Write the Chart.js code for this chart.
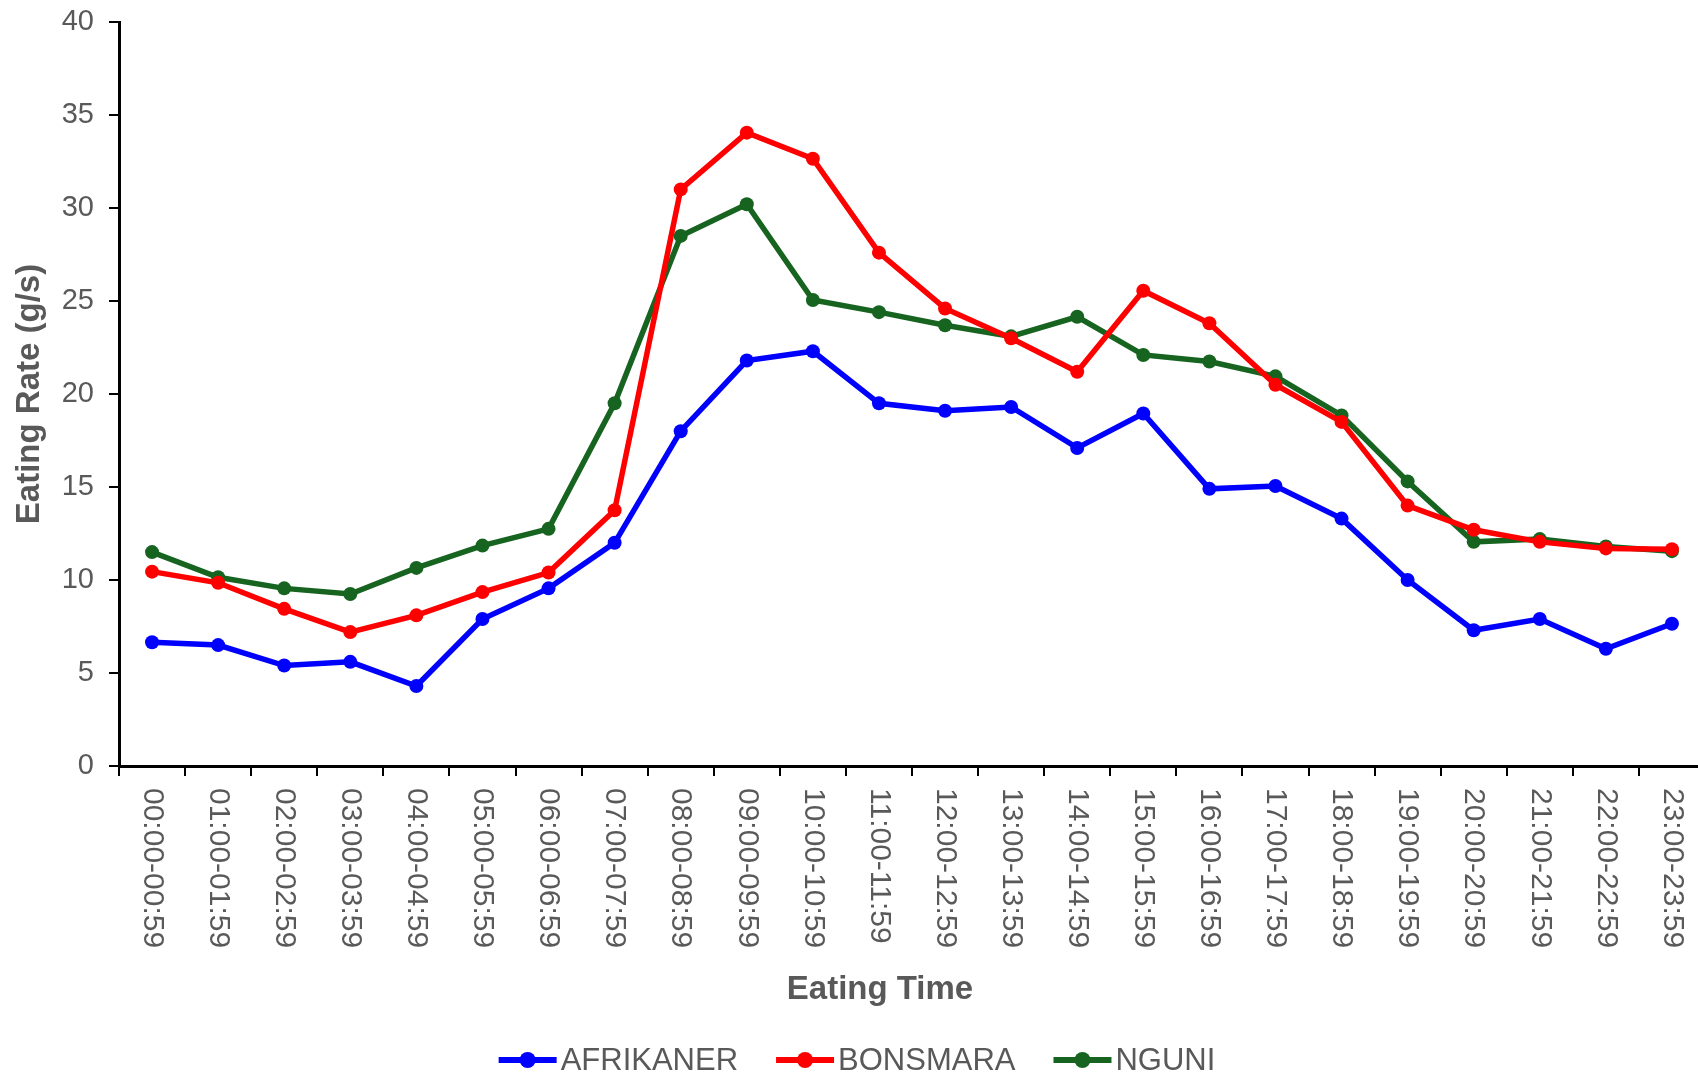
<!DOCTYPE html>
<html>
<head>
<meta charset="utf-8">
<title>Eating Rate</title>
<script src="https://cdn.jsdelivr.net/npm/chart.js@4.4.1/dist/chart.umd.min.js"></script>
<style>
    html, body { margin: 0; padding: 0; background: #ffffff; overflow: hidden; }
    #wrap { width: 1712px; height: 1076px; }
</style>
</head>
<body>
<div id="wrap"><canvas id="eating-chart"></canvas></div>
<script>
// Chart data
const timeSlots = [
    '00:00-00:59', '01:00-01:59', '02:00-02:59', '03:00-03:59', '04:00-04:59', '05:00-05:59',
    '06:00-06:59', '07:00-07:59', '08:00-08:59', '09:00-09:59', '10:00-10:59', '11:00-11:59',
    '12:00-12:59', '13:00-13:59', '14:00-14:59', '15:00-15:59', '16:00-16:59', '17:00-17:59',
    '18:00-18:59', '19:00-19:59', '20:00-20:59', '21:00-21:59', '22:00-22:59', '23:00-23:59'
];
const afrikaner = [6.65, 6.5, 5.4, 5.6, 4.3, 7.9, 9.55, 12.0, 18.0, 21.8, 22.3, 19.5,
                   19.1, 19.3, 17.1, 18.95, 14.9, 15.05, 13.3, 10.0, 7.3, 7.9, 6.3, 7.65];
const bonsmara = [10.45, 9.85, 8.45, 7.2, 8.1, 9.35, 10.4, 13.75, 31.0, 34.05, 32.65, 27.6,
                  24.6, 23.0, 21.2, 25.55, 23.8, 20.5, 18.5, 14.0, 12.7, 12.05, 11.7, 11.65];
const nguni = [11.5, 10.15, 9.55, 9.25, 10.65, 11.85, 12.75, 19.5, 28.5, 30.2, 25.05, 24.4,
               23.7, 23.1, 24.15, 22.1, 21.75, 20.95, 18.85, 15.3, 12.05, 12.2, 11.8, 11.55];
const yTicks = [0, 5, 10, 15, 20, 25, 30, 35, 40];

const fontFamily = "'Liberation Sans', Arial, sans-serif";
const textColor = '#595959';

Chart.defaults.font.family = fontFamily;

// draws the rotated x labels, the x title and the line+dot legend
const extrasPlugin = {
    id: 'extras',
    afterDraw(chart) {
        const ctx = chart.ctx;
        const xs = chart.scales.x;
        ctx.save();
        ctx.fillStyle = textColor;

        // x tick labels, reading top to bottom
        ctx.font = `30px ${fontFamily}`;
        ctx.textAlign = 'left';
        ctx.textBaseline = 'middle';
        timeSlots.forEach((label, i) => {
            ctx.save();
            ctx.translate(xs.getPixelForTick(i), xs.top + 22);
            ctx.rotate(Math.PI / 2);
            ctx.fillText(label, 0, 0);
            ctx.restore();
        });

        // x axis title
        ctx.font = `bold 33px ${fontFamily}`;
        ctx.textAlign = 'center';
        ctx.fillText('Eating Time', 880, 990);

        // legend
        const items = chart.data.datasets.map(ds => ({ label: ds.label, color: ds.borderColor }));
        const lineLen = 58, textGap = 4, itemGap = 38, legendY = 1060;
        ctx.font = `31px ${fontFamily}`;
        ctx.textAlign = 'left';
        const widths = items.map(it => lineLen + textGap + ctx.measureText(it.label).width);
        const total = widths.reduce((a, b) => a + b, 0) + itemGap * (items.length - 1);
        let x = 857 - total / 2;
        items.forEach((it, i) => {
            ctx.strokeStyle = it.color;
            ctx.lineWidth = 6;
            ctx.beginPath();
            ctx.moveTo(x, legendY);
            ctx.lineTo(x + lineLen, legendY);
            ctx.stroke();
            ctx.fillStyle = it.color;
            ctx.beginPath();
            ctx.arc(x + lineLen / 2, legendY, 8, 0, Math.PI * 2);
            ctx.fill();
            ctx.fillStyle = textColor;
            ctx.fillText(it.label, x + lineLen + textGap, legendY + 1);
            x += widths[i] + itemGap;
        });
        ctx.restore();
    }
};

function series(label, data, color) {
    return {
        label: label,
        data: data,
        borderColor: color,
        backgroundColor: color,
        pointBackgroundColor: color,
        pointBorderColor: color,
        borderWidth: 5.5,
        pointRadius: 7,
        pointBorderWidth: 0,
        tension: 0,
        fill: false
    };
}

const axisGrid = {
    drawOnChartArea: false,
    drawTicks: true,
    tickLength: 10,
    color: '#000000',
    lineWidth: 2
};

new Chart(document.getElementById('eating-chart'), {
    type: 'line',
    data: {
        labels: timeSlots,
        datasets: [
            series('AFRIKANER', afrikaner, '#0000ff'),
            series('BONSMARA', bonsmara, '#ff0000'),
            series('NGUNI', nguni, '#176420')
        ]
    },
    options: {
        responsive: true,
        maintainAspectRatio: false,
        animation: false,
        layout: { padding: { top: 22, right: 6, left: 0, bottom: 0 } },
        plugins: {
            legend: { display: false },
            tooltip: { enabled: false }
        },
        scales: {
            x: {
                type: 'category',
                offset: true,
                grid: { ...axisGrid, offset: true },
                border: { color: '#000000', width: 3 },
                ticks: { display: false },
                afterFit: scale => {
                    scale.height = 1076 - 766;
                    scale.paddingLeft = 0;
                    scale.paddingRight = 0;
                }
            },
            y: {
                min: 0,
                max: 40,
                afterBuildTicks: scale => { scale.ticks = yTicks.map(v => ({ value: v })); },
                grid: axisGrid,
                border: { color: '#000000', width: 3 },
                ticks: {
                    color: textColor,
                    font: { size: 29, lineHeight: 1 },
                    padding: 15
                },
                title: {
                    display: true,
                    text: 'Eating Rate (g/s)',
                    color: textColor,
                    font: { size: 33, weight: 'bold' },
                    padding: { top: 10, bottom: 0 }
                },
                afterFit: scale => {
                    scale.width = 119;
                    scale.paddingTop = 0;
                    scale.paddingBottom = 0;
                }
            }
        }
    },
    plugins: [extrasPlugin]
});
</script>
</body>
</html>
